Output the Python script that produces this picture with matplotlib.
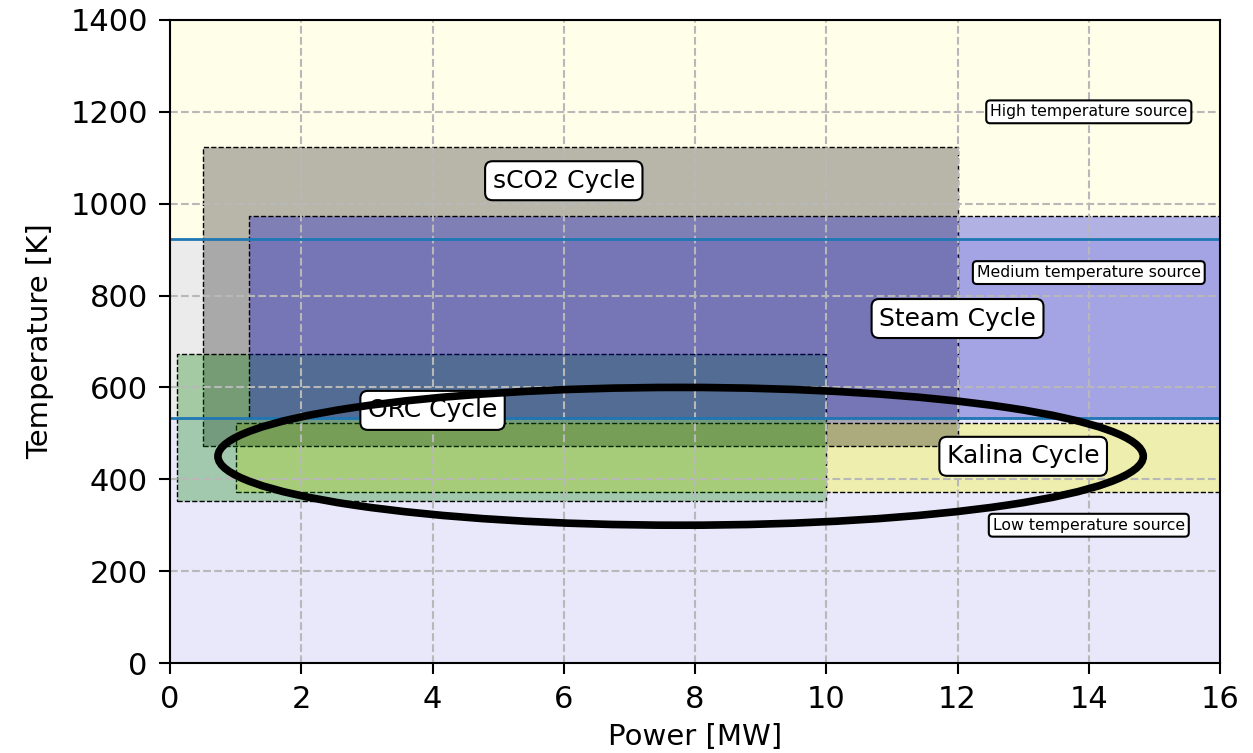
"""Operating windows of power cycles vs heat source temperature."""

import matplotlib.pyplot as plt
from matplotlib.patches import Ellipse, Rectangle

# heat source bands [K]
source_names = ["Low temperature source", "Medium temperature source", "High temperature source"]
source_t_low = [0, 533, 923]
source_t_high = [533, 923, 1400]
source_colors = ["#e8e8fa", "#ebebeb", "#fffee9"]
source_label_pos = [(14.0, 300), (14.0, 850), (14.0, 1200)]

# cycle windows: power range [MW] and temperature range [K] (listed in drawing order)
cycle_names = ["Kalina Cycle", "sCO2 Cycle", "ORC Cycle", "Steam Cycle"]
cycle_p_min = [1.0, 0.5, 0.1, 1.2]
cycle_p_max = [16.0, 12.0, 10.0, 16.0]
cycle_t_min = [373, 473, 353, 533]
cycle_t_max = [523, 1123, 673, 973]
cycle_colors = [(1.0, 1.0, 0.0, 0.3), (0.07, 0.07, 0.07, 0.3), (0.0, 0.5, 0.0, 0.3), (0.0, 0.0, 0.85, 0.3)]
cycle_label_pos = [(13.0, 450), (6.0, 1050), (4.0, 550), (12.0, 750)]

# highlighted region
highlight_center = (7.78, 450)
highlight_width = 14.1
highlight_height = 300

fig = plt.figure(figsize=(12.53, 7.53), dpi=100)
ax = fig.add_axes([0.1357, 0.1195, 0.8380, 0.8540])

for lo, hi, col in zip(source_t_low, source_t_high, source_colors):
    ax.add_patch(Rectangle((0, lo), 16, hi - lo, facecolor=col, edgecolor="none", zorder=0.5))

for name, p0, p1, t0, t1, col in zip(cycle_names, cycle_p_min, cycle_p_max,
                                     cycle_t_min, cycle_t_max, cycle_colors):
    ax.add_patch(Rectangle((p0, t0), p1 - p0, t1 - t0, facecolor=col,
                           edgecolor="black", linestyle="--", linewidth=1.0, zorder=1))

for t in source_t_high[:2]:
    ax.axhline(t, color="#1f77b4", linewidth=2.0, zorder=2)

for name, (x, y) in zip(cycle_names, cycle_label_pos):
    ax.text(x, y, name, fontsize=18, ha="center", va="center", zorder=3,
            bbox=dict(boxstyle="round,pad=0.3", facecolor="white", edgecolor="black", linewidth=1.5))

for name, (x, y) in zip(source_names, source_label_pos):
    ax.text(x, y, name, fontsize=11.3, ha="center", va="center", zorder=3,
            bbox=dict(boxstyle="round,pad=0.25", facecolor="white", edgecolor="black", linewidth=1.5))

ax.add_patch(Ellipse(highlight_center, highlight_width, highlight_height, fill=False,
                     edgecolor="black", linewidth=5.5, zorder=5))

ax.set_xlim(0, 16)
ax.set_ylim(0, 1400)
ax.set_xticks(range(0, 17, 2))
ax.set_yticks(range(0, 1401, 200))
ax.tick_params(labelsize=22, length=8, width=1.5, pad=8)
ax.set_xlabel("Power [MW]", fontsize=21, labelpad=6)
ax.set_ylabel("Temperature [K]", fontsize=21, labelpad=12)
ax.grid(True, linestyle="--", color="#b8b8b8", linewidth=1.5)
for spine in ax.spines.values():
    spine.set_linewidth(1.5)

fig.savefig("out.png", dpi=100)
